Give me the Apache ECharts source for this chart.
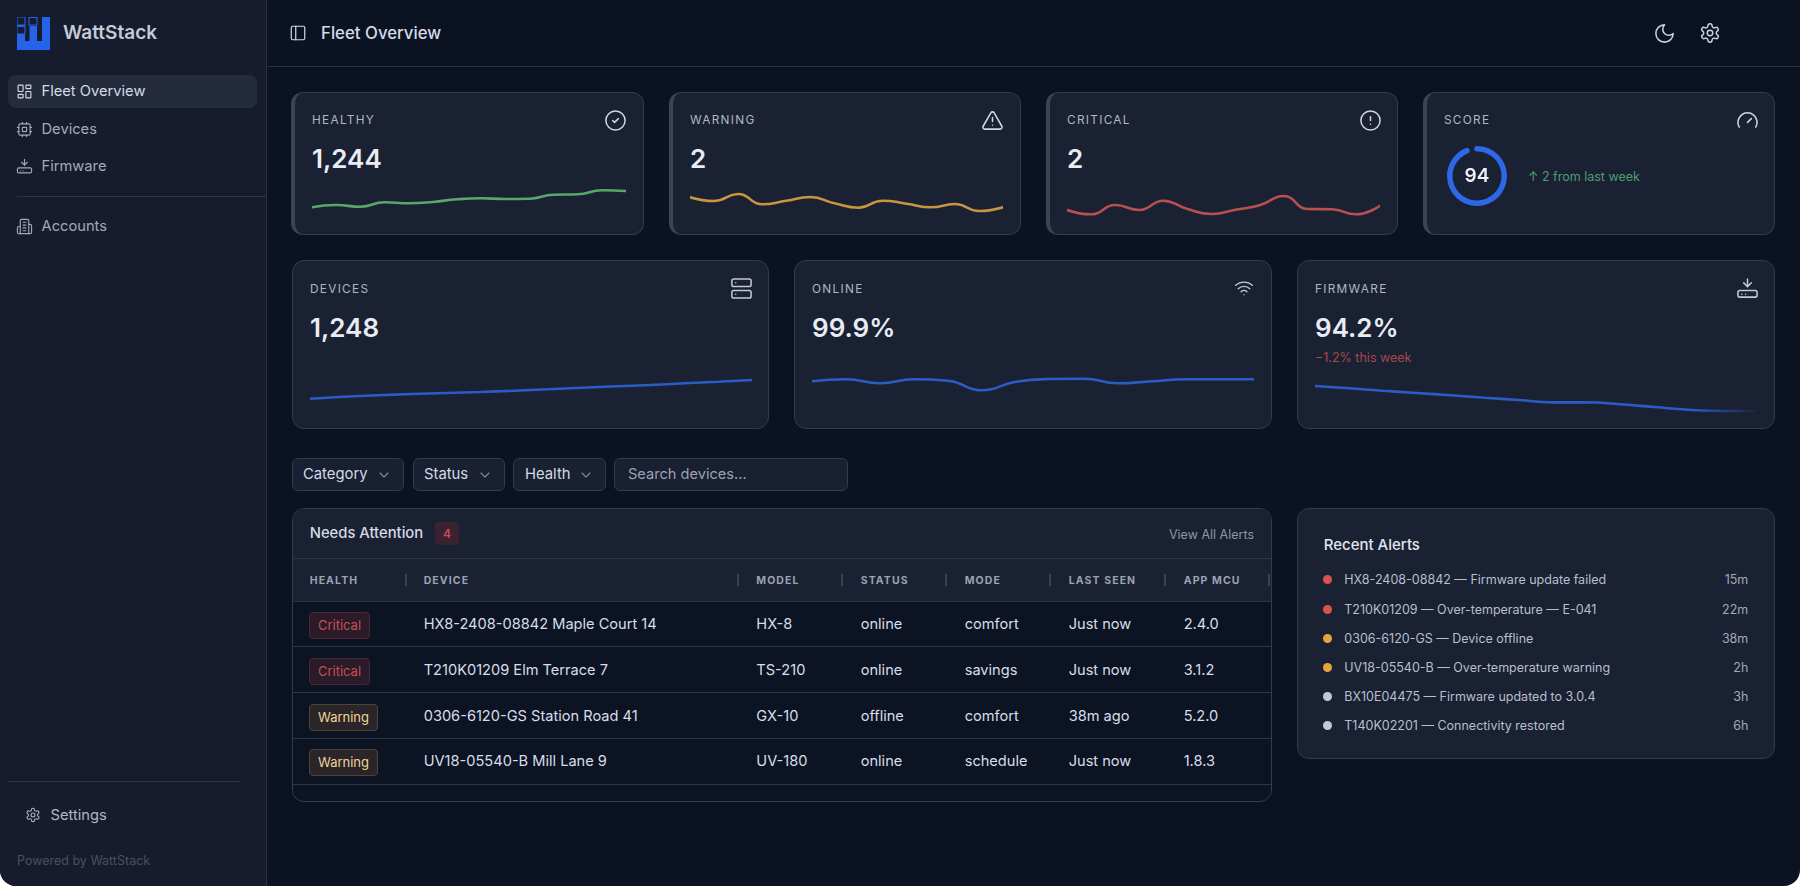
<!DOCTYPE html>
<html lang="en">
<head>
<meta charset="UTF-8">
<title>WattStack - Fleet Overview</title>
<style>
  html, body { margin: 0; padding: 0; width: 1800px; height: 886px; overflow: hidden; background: #fff; }
  body { font-family: Inter, "Noto Sans", sans-serif; color: #d5dae5; }
  #app { position: absolute; left: 0; top: 0; width: 1800px; height: 886px; overflow: hidden; background: #0b1222; border-radius: 0 0 16px 16px; }
  #side { position: absolute; left: 0; top: 0; width: 266px; height: 886px; background: #161c2d; border-right: 1px solid #2a3242; box-sizing: content-box; }
  .t { position: absolute; transform: translateY(-50%); white-space: nowrap; line-height: 1.2; }
  .r { transform: translate(-100%, -50%); }
  .hr { position: absolute; height: 1px; background: #2d3545; }
  .card { position: absolute; box-sizing: border-box; background: #1a2132; border: 1px solid #333b4c; border-radius: 12px; }
  .card.thick { border-left: 4px solid #3b4354; }
  .label { font-size: 11.8px; letter-spacing: 1.3px; color: #b0b6c5; }
  .value { font-size: 26px; font-weight: 600; color: #e8ecf5; }
  .chart { position: absolute; }
  .ctl { position: absolute; box-sizing: border-box; top: 458px; height: 33px; background: #182031; border: 1px solid #323a4b; border-radius: 6px; }
  .band { position: absolute; left: 293px; width: 978px; background: #1a2132; }
  .th { font-size: 10.5px; font-weight: 700; letter-spacing: 1.1px; color: #9ba2b2; }
  .td { font-size: 14.6px; color: #d8dde8; }
  .tick { position: absolute; width: 2px; height: 12px; top: 574px; background: #3a4354; }
  .pill { position: absolute; box-sizing: border-box; height: 27px; border-radius: 4px; border: 1px solid; font-size: 13px; line-height: 25px; text-align: center; }
  .dot { position: absolute; width: 9px; height: 9px; border-radius: 50%; }
  svg.i { position: absolute; fill: none; stroke: currentColor; stroke-width: 1.6; stroke-linecap: round; stroke-linejoin: round; }
</style>
</head>
<body>
<div id="app">
  <div id="side"></div>
  <div class="hr" style="left:267px;top:66px;width:1533px;background:#2a3242"></div>
  <div class="hr" style="left:17px;top:196px;width:249px"></div>
  <div class="hr" style="left:8px;top:781px;width:233px"></div>
  <div style="position:absolute;left:8px;top:75px;width:249px;height:33px;background:#232b3c;border-radius:8px"></div>
  <svg style="position:absolute;left:17px;top:17px" width="33" height="33">
    <rect x="0" y="0" width="33" height="33" fill="#2563eb"></rect>
    <rect x="8" y="0" width="4.5" height="24" fill="#161c2d"></rect>
    <rect x="20" y="0" width="5" height="24" fill="#161c2d"></rect>
    <rect x="12.5" y="0" width="7.5" height="9" fill="#161c2d"></rect>
    <rect x="0" y="0" width="8" height="8" fill="#161c2d" stroke="#2563eb"></rect>
    <rect x="12" y="0.5" width="8" height="7.5" fill="#161c2d" stroke="#2563eb"></rect>
    <rect x="0" y="9.5" width="8" height="7.5" fill="#161c2d" stroke="#2563eb"></rect>
  </svg>
  <div id="static"></div>
</div>

<script src="https://cdn.jsdelivr.net/npm/echarts@6/dist/echarts.min.js"></script>
<script>
  // sparkline readings, 14 samples per card
  const healthyValues = [17.7, 20, 18.3, 22.7, 21.7, 23, 25.7, 26.7, 26, 26.3, 30.3, 30.7, 34.7, 34];
  const warningValues = [27.7, 24, 31, 20.7, 24.3, 28, 21.7, 17.3, 24.3, 21.3, 17.7, 21, 14, 17.7];
  const criticalValues = [15, 10.7, 20, 15, 24.3, 16, 11, 15.3, 19.7, 29, 16, 15.7, 10.7, 19.3];
  const devicesValues = [21.3, 23.3, 24.7, 26, 27, 28, 29.3, 30.7, 32.3, 33.7, 35, 36.7, 38.3, 40];
  const onlineValues = [38.7, 40.7, 36.7, 40.7, 39.3, 29.7, 38.3, 41, 41.3, 36.7, 38.7, 40.7, 40.7, 40.7];
  const firmwareValues = [34, 31.7, 29.3, 27, 24.7, 22.3, 20, 17.6, 17.7, 15.7, 13, 10.3, 9, 9];
  const scoreValue = 94;

  const tableColumns = ['HEALTH', 'DEVICE', 'MODEL', 'STATUS', 'MODE', 'LAST SEEN', 'APP MCU'];
  const tableRows = [
    ['Critical', 'HX8-2408-08842 Maple Court 14', 'HX-8', 'online', 'comfort', 'Just now', '2.4.0'],
    ['Critical', 'T210K01209 Elm Terrace 7', 'TS-210', 'online', 'savings', 'Just now', '3.1.2'],
    ['Warning', '0306-6120-GS Station Road 41', 'GX-10', 'offline', 'comfort', '38m ago', '5.2.0'],
    ['Warning', 'UV18-05540-B Mill Lane 9', 'UV-180', 'online', 'schedule', 'Just now', '1.8.3']
  ];
  const alertTexts = [
    'HX8-2408-08842 — Firmware update failed',
    'T210K01209 — Over-temperature — E-041',
    '0306-6120-GS — Device offline',
    'UV18-05540-B — Over-temperature warning',
    'BX10E04475 — Firmware updated to 3.0.4',
    'T140K02201 — Connectivity restored'
  ];
  const alertTimes = ['15m', '22m', '38m', '2h', '3h', '6h'];
  const alertColors = ['#d9534f', '#d9534f', '#e8a33d', '#e8a33d', '#c3c8d6', '#c3c8d6'];

  const ICONS = {
    check: '<circle cx="12" cy="12" r="10"/><path d="m9 12 2 2 4-4"/>',
    warn: '<path d="m21.73 18-8-14a2 2 0 0 0-3.48 0l-8 14A2 2 0 0 0 4 21h16a2 2 0 0 0 1.73-3"/><path d="M12 9v4"/><path d="M12 17h.01"/>',
    alert: '<circle cx="12" cy="12" r="10"/><path d="M12 8v4"/><path d="M12 16h.01"/>',
    gauge: '<path d="m12 14 4-4"/><path d="M3.34 19a10 10 0 1 1 17.32 0"/>',
    moon: '<path d="M12 3a6 6 0 0 0 9 9 9 9 0 1 1-9-9Z"/>',
    gear: '<path d="M12.22 2h-.44a2 2 0 0 0-2 2v.18a2 2 0 0 1-1 1.73l-.43.25a2 2 0 0 1-2 0l-.15-.08a2 2 0 0 0-2.73.73l-.22.38a2 2 0 0 0 .73 2.73l.15.1a2 2 0 0 1 1 1.72v.51a2 2 0 0 1-1 1.74l-.15.09a2 2 0 0 0-.73 2.73l.22.38a2 2 0 0 0 2.73.73l.15-.08a2 2 0 0 1 2 0l.43.25a2 2 0 0 1 1 1.73V20a2 2 0 0 0 2 2h.44a2 2 0 0 0 2-2v-.18a2 2 0 0 1 1-1.73l.43-.25a2 2 0 0 1 2 0l.15.08a2 2 0 0 0 2.73-.73l.22-.39a2 2 0 0 0-.73-2.73l-.15-.08a2 2 0 0 1-1-1.74v-.5a2 2 0 0 1 1-1.74l.15-.09a2 2 0 0 0 .73-2.73l-.22-.38a2 2 0 0 0-2.73-.73l-.15.08a2 2 0 0 1-2 0l-.43-.25a2 2 0 0 1-1-1.73V4a2 2 0 0 0-2-2z"/><circle cx="12" cy="12" r="3"/>',
    panel: '<rect x="3" y="3" width="18" height="18" rx="2"/><path d="M9 3v18"/>',
    grid: '<rect x="3" y="3" width="7" height="9" rx="1"/><rect x="14" y="3" width="7" height="5" rx="1"/><rect x="14" y="12" width="7" height="9" rx="1"/><rect x="3" y="16" width="7" height="5" rx="1"/>',
    cpu: '<rect x="4" y="4" width="16" height="16" rx="2"/><rect x="9" y="9" width="6" height="6" rx="1"/><path d="M15 2v2M15 20v2M2 15h2M2 9h2M20 15h2M20 9h2M9 2v2M9 20v2"/>',
    fw: '<path d="M12 2v8"/><path d="m8 6 4 4 4-4"/><rect x="2" y="14" width="20" height="7" rx="2"/><path d="M6 18h.01M10 18h.01"/>',
    build: '<path d="M6 22V4a2 2 0 0 1 2-2h8a2 2 0 0 1 2 2v18Z"/><path d="M6 12H4a2 2 0 0 0-2 2v6a2 2 0 0 0 2 2h2"/><path d="M18 9h2a2 2 0 0 1 2 2v9a2 2 0 0 1-2 2h-2"/><path d="M10 6h4M10 10h4M10 14h4M10 18h4"/>',
    server: '<rect x="2" y="2" width="20" height="8" rx="2"/><rect x="2" y="14" width="20" height="8" rx="2"/><path d="M6 6h.01M6 18h.01"/>',
    wifi: '<path d="M12 20h.01"/><path d="M2 8.82a15 15 0 0 1 20 0"/><path d="M5 12.859a10 10 0 0 1 14 0"/><path d="M8.5 16.429a5 5 0 0 1 7 0"/>',
    chev: '<path d="m6 9 6 6 6-6"/>'
  };

  let html = '';
  function text(str, x, y, css, cls) {
    html += '<div class="t ' + (cls || '') + '" style="left:' + x + 'px;top:' + y + 'px;' + (css || '') + '">' + str + '</div>';
  }
  function icon(name, cx, cy, size, color) {
    html += '<svg class="i" viewBox="0 0 24 24" width="' + size + '" height="' + size + '" style="left:' + (cx - size / 2) + 'px;top:' + (cy - size / 2) + 'px;color:' + color + '">' + ICONS[name] + '</svg>';
  }
  function card(x, y, w, h, thick) {
    html += '<div class="card' + (thick ? ' thick' : '') + '" style="left:' + x + 'px;top:' + y + 'px;width:' + w + 'px;height:' + h + 'px"></div>';
  }
  function chartBox(id, x, y, w, h) {
    html += '<div class="chart" id="' + id + '" style="left:' + x + 'px;top:' + y + 'px;width:' + w + 'px;height:' + h + 'px"></div>';
  }

  // sidebar
  text('WattStack', 63, 33, 'font-size:19px;font-weight:600;color:#c4cad8');
  icon('grid', 24.5, 91.5, 17, '#d5dae5');
  text('Fleet Overview', 41.5, 92.3, 'font-size:14.7px;color:#d5dae5');
  icon('cpu', 24.5, 129, 17, '#a2a9b8');
  text('Devices', 41.5, 129.8, 'font-size:14.7px;color:#a2a9b8');
  icon('fw', 24.5, 166.5, 17, '#a2a9b8');
  text('Firmware', 41.5, 167.3, 'font-size:14.7px;color:#a2a9b8');
  icon('build', 24.5, 226.5, 17, '#a2a9b8');
  text('Accounts', 41.5, 226.5, 'font-size:14.7px;color:#a2a9b8');
  icon('gear', 33, 815, 16, '#b0b6c5');
  text('Settings', 50.5, 815.5, 'font-size:14.7px;color:#b0b6c5');
  text('Powered by WattStack', 17, 860.3, 'font-size:12.5px;color:#484f60');

  // header
  icon('panel', 298, 33, 18, '#d5dae5');
  text('Fleet Overview', 321, 33, 'font-size:16.8px;font-weight:500;color:#d5dae5');
  icon('moon', 1664, 33, 23, '#ccd2de');
  icon('gear', 1710, 33, 22, '#ccd2de');

  // top row cards
  card(291, 92, 353, 143, true);
  card(669, 92, 352, 143, true);
  card(1046, 92, 352, 143, true);
  card(1423, 92, 352, 143, true);
  text('HEALTHY', 312, 120, '', 'label');
  text('WARNING', 690, 120, '', 'label');
  text('CRITICAL', 1067, 120, '', 'label');
  text('SCORE', 1444, 120, '', 'label');
  text('1,244', 312, 158.8, '', 'value');
  text('2', 690, 158.8, '', 'value');
  text('2', 1067, 158.8, '', 'value');
  icon('check', 615.5, 120, 23, '#d0d5e0');
  icon('warn', 992.5, 120, 23, '#d0d5e0');
  icon('alert', 1370, 120, 23, '#d0d5e0');
  icon('gauge', 1747, 120.5, 23, '#d0d5e0');
  text('↑ 2 from last week', 1528, 176, 'font-size:12.5px;color:#4f9d72');
  chartBox('sparkHealthy', 312, 185, 314, 40);
  chartBox('sparkWarning', 690, 185, 313, 40);
  chartBox('sparkCritical', 1067, 185, 313, 40);
  chartBox('scoreRing', 1442, 141, 70, 70);

  // second row cards
  card(292, 260, 477, 169);
  card(794, 260, 478, 169);
  card(1297, 260, 478, 169);
  text('DEVICES', 310, 288.5, '', 'label');
  text('ONLINE', 812, 288.5, '', 'label');
  text('FIRMWARE', 1315, 288.5, '', 'label');
  text('1,248', 310, 327.8, '', 'value');
  text('99.9%', 812, 327.8, '', 'value');
  text('94.2%', 1315, 327.8, '', 'value');
  text('−1.2% this week', 1315, 357, 'font-size:12.5px;color:#a8474a');
  icon('server', 741, 288, 23, '#c3c8d6');
  icon('wifi', 1244, 288, 20, '#c3c8d6');
  icon('fw', 1747, 288, 23, '#c3c8d6');
  chartBox('sparkDevices', 309.5, 370, 442, 50);
  chartBox('sparkOnline', 812, 370, 442, 50);
  chartBox('sparkFirmware', 1315, 370, 441, 50);

  // filters
  html += '<div class="ctl" style="left:292px;width:112px"></div><div class="ctl" style="left:413px;width:92px"></div>';
  html += '<div class="ctl" style="left:513px;width:93px"></div><div class="ctl" style="left:614px;width:234px"></div>';
  text('Category', 303, 475.2, 'font-size:14.8px;color:#d5dae5');
  text('Status', 424, 475.2, 'font-size:14.8px;color:#d5dae5');
  text('Health', 525, 475.2, 'font-size:14.8px;color:#d5dae5');
  text('Search devices...', 628, 475.2, 'font-size:14.6px;color:#9ba2b2');
  icon('chev', 384, 474.5, 16, '#7f8798');
  icon('chev', 485, 474.5, 16, '#7f8798');
  icon('chev', 586, 474.5, 16, '#7f8798');

  // attention table
  const colX = [309.7, 423.7, 756.3, 860.7, 964.7, 1068.7, 1183.7];
  const tickX = [405, 737, 841, 945, 1049, 1164, 1268];
  const rowY = [624.5, 670.5, 716.5, 762];
  const lineY = [558, 601, 646, 692, 738, 784];
  html += '<div class="card" style="left:292px;top:508px;width:980px;height:294px;background:#0c1424"></div>';
  html += '<div class="band" style="top:509px;height:92px;border-radius:11px 11px 0 0"></div>';
  lineY.forEach(y => { html += '<div class="hr" style="left:293px;width:978px;top:' + y + 'px;background:#2d3545"></div>'; });
  tickX.forEach(x => { html += '<div class="tick" style="left:' + x + 'px"></div>'; });
  text('Needs Attention', 309.7, 533.7, 'font-size:14.8px;font-weight:500;color:#d5dae5');
  html += '<div style="position:absolute;left:435px;top:522px;width:24px;height:23px;background:#3a2230;border-radius:4px;font-size:12px;font-weight:600;line-height:23px;text-align:center;color:#c2504e">4</div>';
  text('View All Alerts', 1254, 533.5, 'font-size:12.5px;color:#8d95a6', 'r');
  tableColumns.forEach((c, i) => text(c, colX[i], 580.5, '', 'th'));
  tableRows.forEach((row, r) => {
    const crit = row[0] === 'Critical';
    html += '<div class="pill" style="left:309px;top:' + (rowY[r] - 13) + 'px;width:' + (crit ? 61 : 69) + 'px;background:' + (crit ? '#2b1a2a' : '#292528') + ';border-color:' + (crit ? '#4a2733' : '#4e4335') + ';color:' + (crit ? '#c7504f' : '#f2d29a') + '">' + row[0] + '</div>';
    row.slice(1).forEach((v, i) => text(v, colX[i + 1], rowY[r], '', 'td'));
  });

  // recent alerts
  card(1297, 508, 478, 251);
  text('Recent Alerts', 1323.7, 544.7, 'font-size:15px;font-weight:500;color:#e2e6ef');
  alertTexts.forEach((a, i) => {
    const y = 579.4 + i * 29.15;
    html += '<div class="dot" style="left:1323.2px;top:' + (y - 4) + 'px;background:' + alertColors[i] + '"></div>';
    text(a, 1344.3, y, 'font-size:12.5px;color:#b8bfcd');
    text(alertTimes[i], 1748.3, y, 'font-size:12.5px;color:#a2a9b8', 'r');
  });

  document.getElementById('static').innerHTML = html;

  function spark(id, values, yMax, color) {
    const chart = echarts.init(document.getElementById(id));
    chart.setOption({
      animation: false,
      grid: { left: 0, right: 0, top: 0, bottom: 0 },
      xAxis: { type: 'category', show: false, boundaryGap: false, data: values.map((v, i) => i) },
      yAxis: { type: 'value', show: false, min: 0, max: yMax },
      series: [{
        type: 'line',
        data: values,
        smooth: 0.5,
        symbol: 'none',
        lineStyle: { width: 2.6, color: color, cap: 'round' }
      }]
    });
    return chart;
  }

  spark('sparkHealthy', healthyValues, 40, '#59a86b');
  spark('sparkWarning', warningValues, 40, '#c8963e');
  spark('sparkCritical', criticalValues, 40, '#b8504f');
  spark('sparkDevices', devicesValues, 50, '#2b5cc6');
  spark('sparkOnline', onlineValues, 50, '#2b5cc6');
  spark('sparkFirmware', firmwareValues, 50, new echarts.graphic.LinearGradient(0, 0, 1, 0, [
    { offset: 0, color: '#2b5cc6' },
    { offset: 0.85, color: '#2b5cc6' },
    { offset: 1, color: 'rgba(43,92,198,0.05)' }
  ]));

  const ring = echarts.init(document.getElementById('scoreRing'));
  ring.setOption({
    animation: false,
    series: [{
      type: 'gauge',
      center: ['50%', '50%'],
      radius: 30,
      startAngle: 90,
      endAngle: -270,
      min: 0,
      max: 100,
      progress: { show: true, roundCap: true, width: 5.5, itemStyle: { color: '#2d68e8' } },
      axisLine: { lineStyle: { width: 5.5, color: [[1, 'rgba(0,0,0,0)']] } },
      axisTick: { show: false },
      splitLine: { show: false },
      axisLabel: { show: false },
      pointer: { show: false },
      title: { show: false },
      detail: {
        valueAnimation: false,
        offsetCenter: [0, 0],
        fontFamily: 'Inter',
        fontSize: 19,
        fontWeight: 600,
        color: '#eef1f7',
        formatter: '{value}'
      },
      data: [{ value: scoreValue }]
    }]
  });
</script>
</body>
</html>
